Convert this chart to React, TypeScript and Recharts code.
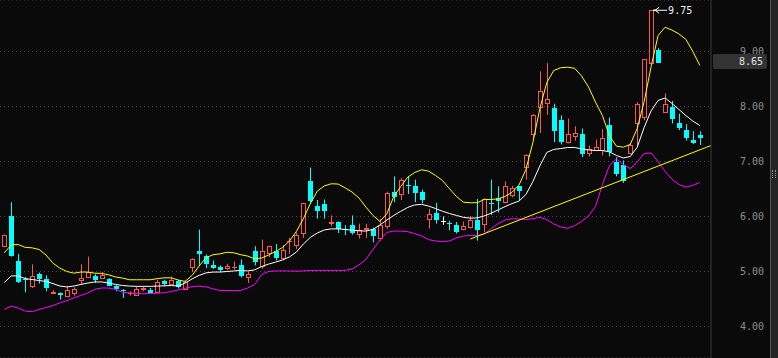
import { ComposedChart, Bar, Line, XAxis, YAxis, CartesianGrid, ReferenceLine, ReferenceDot } from 'recharts'

const BG = '#0a0a0a'
const UP = '#ff5454'
const DOWN = '#00ffff'
const FONT = '"DejaVu Sans Mono", monospace'

// daily candles, oldest first
const opens = [
  5.44, 6.01, 5.20, 4.87, 4.72, 4.95, 4.86, 4.59, 4.61, 4.53,
  4.60, 4.83, 4.89, 4.92, 4.87, 4.87, 4.73, 4.67, 4.60, 4.56,
  4.66, 4.67, 4.61, 4.83, 4.76, 4.83, 4.67, 5.06, 5.38, 5.28,
  5.11, 5.08, 5.05, 5.07, 5.11, 4.88, 5.37, 5.08, 5.32, 5.38,
  5.22, 5.54, 5.46, 5.69, 6.64, 6.20, 6.22, 5.87, 5.90, 5.78,
  5.84, 5.67, 5.75, 5.78, 5.60, 5.81, 6.44, 6.40, 6.57, 6.55,
  6.44, 5.94, 6.06, 5.92, 5.89, 5.84, 5.75, 5.80, 5.94, 5.85,
  6.25, 6.34, 6.24, 6.37, 6.55, 6.88, 7.49, 7.97, 8.05, 7.98,
  7.75, 7.33, 7.44, 7.50, 7.14, 7.20, 7.19, 7.67, 7.00, 6.93,
  7.14, 7.69, 7.80, 8.78, 9.02, 7.89, 8.00, 7.70, 7.57, 7.40,
  7.49,
]
const highs = [
  5.67, 6.26, 5.32, 4.90, 5.13, 4.98, 4.93, 4.66, 4.62, 4.73,
  4.71, 5.13, 5.27, 4.95, 4.99, 4.88, 4.76, 4.68, 4.64, 4.73,
  4.73, 4.70, 4.85, 4.85, 4.91, 4.85, 4.84, 5.24, 5.76, 5.31,
  5.20, 5.11, 5.14, 5.18, 5.22, 4.99, 5.46, 5.58, 5.47, 5.50,
  5.48, 5.61, 5.71, 6.25, 6.89, 6.30, 6.31, 6.02, 5.91, 5.84,
  6.02, 5.87, 5.87, 5.80, 5.95, 6.45, 6.73, 6.70, 6.73, 6.67,
  6.49, 6.14, 6.25, 6.00, 5.92, 5.90, 5.91, 6.01, 6.32, 6.33,
  6.67, 6.55, 6.64, 6.56, 6.55, 7.13, 7.86, 8.64, 8.79, 8.05,
  7.84, 7.78, 7.64, 7.60, 7.29, 7.40, 7.59, 7.80, 7.08, 7.02,
  7.32, 8.08, 8.86, 9.75, 9.06, 8.24, 8.10, 7.87, 7.68, 7.55,
  7.55,
]
const lows = [
  5.44, 5.27, 4.79, 4.62, 4.70, 4.78, 4.64, 4.59, 4.49, 4.53,
  4.56, 4.77, 4.88, 4.79, 4.87, 4.73, 4.64, 4.52, 4.56, 4.56,
  4.64, 4.60, 4.61, 4.73, 4.76, 4.69, 4.67, 4.99, 5.12, 5.06,
  5.05, 4.99, 5.03, 5.03, 4.89, 4.79, 5.11, 5.05, 5.26, 5.20,
  5.20, 5.32, 5.41, 5.61, 6.23, 5.96, 5.96, 5.82, 5.70, 5.66,
  5.67, 5.60, 5.61, 5.53, 5.56, 5.78, 6.26, 6.30, 6.41, 6.26,
  6.24, 5.78, 5.87, 5.85, 5.75, 5.69, 5.75, 5.78, 5.56, 5.72,
  6.03, 6.07, 6.24, 6.35, 6.29, 6.67, 7.42, 7.52, 7.85, 7.35,
  7.31, 7.33, 7.38, 7.08, 7.09, 7.19, 7.11, 7.09, 6.73, 6.61,
  7.13, 7.26, 7.75, 8.78, 8.80, 7.89, 7.69, 7.57, 7.38, 7.32,
  7.30,
]
const closes = [
  5.67, 5.29, 4.81, 4.85, 4.91, 4.86, 4.70, 4.62, 4.57, 4.66,
  4.69, 4.89, 5.00, 4.84, 4.93, 4.73, 4.69, 4.64, 4.61, 4.69,
  4.70, 4.61, 4.81, 4.77, 4.84, 4.72, 4.81, 5.23, 5.31, 5.14,
  5.07, 5.03, 5.10, 5.08, 4.92, 4.95, 5.17, 5.37, 5.46, 5.24,
  5.40, 5.55, 5.67, 6.24, 6.29, 6.10, 6.10, 5.90, 5.78, 5.77,
  5.70, 5.76, 5.79, 5.64, 5.85, 6.43, 6.35, 6.66, 6.55, 6.42,
  6.30, 6.04, 5.93, 5.92, 5.88, 5.71, 5.83, 5.94, 5.75, 6.32,
  6.24, 6.28, 6.56, 6.52, 6.47, 7.12, 7.85, 8.29, 8.14, 7.55,
  7.35, 7.50, 7.52, 7.13, 7.23, 7.27, 7.42, 7.17, 6.78, 6.64,
  7.30, 8.05, 8.86, 9.75, 8.80, 8.05, 7.77, 7.61, 7.43, 7.34,
  7.43,
]

// band lines
const upper = [
  5.34, 5.485, 5.49, 5.44, 5.43, 5.40, 5.30, 5.15, 5.06, 5.00,
  4.97, 4.99, 4.99, 4.97, 4.965, 4.94, 4.90, 4.88, 4.85, 4.85,
  4.85, 4.85, 4.87, 4.885, 4.885, 4.845, 4.82, 4.93, 5.10, 5.25,
  5.305, 5.32, 5.35, 5.34, 5.305, 5.28, 5.23, 5.245, 5.30, 5.365,
  5.435, 5.555, 5.73, 5.96, 6.235, 6.46, 6.555, 6.595, 6.59, 6.52,
  6.445, 6.335, 6.17, 6.02, 5.91, 6.05, 6.365, 6.545, 6.715, 6.80,
  6.85, 6.825, 6.745, 6.655, 6.505, 6.365, 6.26, 6.25, 6.25, 6.31,
  6.31, 6.32, 6.365, 6.44, 6.57, 6.855, 7.345, 7.965, 8.435, 8.655,
  8.705, 8.715, 8.695, 8.555, 8.355, 8.08, 7.835, 7.47, 7.28, 7.26,
  7.31, 7.60, 8.09, 8.725, 9.29, 9.44, 9.39, 9.32, 9.22, 9.00,
  8.745,
]
const middle = [
  4.80, 4.92, 4.92, 4.87, 4.855, 4.835, 4.82, 4.78, 4.735, 4.72,
  4.735, 4.765, 4.79, 4.81, 4.81, 4.79, 4.765, 4.745, 4.735, 4.73,
  4.73, 4.73, 4.735, 4.74, 4.745, 4.735, 4.79, 4.865, 4.93, 4.975,
  4.99, 4.99, 5.00, 5.01, 5.02, 5.01, 5.03, 5.09, 5.135, 5.17,
  5.21, 5.265, 5.355, 5.50, 5.62, 5.70, 5.755, 5.775, 5.775, 5.765,
  5.75, 5.74, 5.735, 5.765, 5.845, 5.935, 6.02, 6.095, 6.165, 6.21,
  6.22, 6.19, 6.145, 6.095, 6.055, 6.02, 5.985, 5.97, 5.975, 6.01,
  6.06, 6.12, 6.18, 6.235, 6.28, 6.40, 6.635, 6.92, 7.165, 7.22,
  7.235, 7.255, 7.255, 7.23, 7.21, 7.20, 7.20, 7.175, 7.11, 7.065,
  7.09, 7.26, 7.62, 7.92, 8.11, 8.155, 8.055, 7.945, 7.835, 7.735,
  7.655,
]
const lower = [
  4.31, 4.37, 4.335, 4.28, 4.27, 4.31, 4.345, 4.38, 4.43, 4.47,
  4.52, 4.565, 4.61, 4.675, 4.70, 4.70, 4.675, 4.625, 4.61, 4.60,
  4.595, 4.60, 4.605, 4.615, 4.635, 4.665, 4.695, 4.725, 4.735, 4.72,
  4.685, 4.655, 4.655, 4.65, 4.655, 4.70, 4.765, 4.945, 5.00, 5.01,
  5.01, 5.01, 5.005, 5.01, 5.02, 5.02, 5.02, 5.02, 5.02, 5.02,
  5.045, 5.12, 5.22, 5.40, 5.57, 5.71, 5.735, 5.735, 5.725, 5.69,
  5.645, 5.58, 5.555, 5.545, 5.555, 5.61, 5.645, 5.655, 5.655, 5.68,
  5.78, 5.87, 5.935, 5.96, 5.955, 5.945, 5.96, 5.985, 5.945, 5.865,
  5.81, 5.785, 5.835, 5.91, 6.01, 6.18, 6.58, 6.925, 7.045, 6.945,
  6.87, 6.99, 7.145, 7.155, 7.00, 6.82, 6.68, 6.58, 6.535, 6.565,
  6.62,
]

const trend = [{ i: 67, v: 5.59 }, { i: 101.6, v: 7.29 }]
const peak = { i: 93, v: 9.75 }
const priceTicks = [4, 5, 6, 7, 8, 9]
const cursorPrice = '8.65'

const data = opens.map((o, i) => ({
  i,
  o,
  h: highs[i],
  l: lows[i],
  c: closes[i],
  range: [lows[i], highs[i]],
  upper: upper[i],
  mid: middle[i],
  lower: lower[i],
}))

function Candle(props: any) {
  const { x, y, width, height, payload } = props
  if (!payload || y == null) return null
  const { o, h, l, c } = payload
  const span = h - l
  const py = (v: number) => (span > 0 ? y + ((h - v) / span) * height : y)
  const left = Math.round(x + width / 2) - 2
  const mx = left + 2.5
  const top = Math.round(py(Math.max(o, c)))
  const bot = Math.round(py(Math.min(o, c)))
  const flat = Math.abs(c - o) < 0.005
  const rising = c > o
  const color = flat ? '#ffffff' : rising ? UP : DOWN
  const yh = py(h)
  const yl = py(l)

  if (bot - top <= 1) {
    return (
      <g>
        <line x1={mx} x2={mx} y1={yh} y2={yl} stroke={color} />
        <line x1={left} x2={left + 5} y1={top + 0.5} y2={top + 0.5} stroke={color} />
      </g>
    )
  }
  if (rising) {
    return (
      <g>
        <line x1={mx} x2={mx} y1={yh} y2={top} stroke={color} />
        <line x1={mx} x2={mx} y1={bot} y2={yl} stroke={color} />
        <rect x={left + 0.5} y={top + 0.5} width={4} height={bot - top - 1} fill={BG} stroke={color} />
      </g>
    )
  }
  return (
    <g>
      <line x1={mx} x2={mx} y1={yh} y2={yl} stroke={color} />
      <rect x={left} y={top} width={5} height={bot - top} fill={color} />
    </g>
  )
}

function PriceTick(props: any) {
  const { y, payload } = props
  return (
    <text x={764} y={y} dy={3.5} textAnchor="end" fill="#8e8e8e" fontSize={10} fontFamily={FONT}>
      {Number(payload.value).toFixed(2)}
    </text>
  )
}

function PeakLabel(props: any) {
  const { cx, cy } = props
  if (cx == null || cy == null) return null
  const x0 = cx + 4
  return (
    <g>
      <circle cx={cx + 3} cy={cy} r={1} fill="#ffffff" />
      <path d={`M${x0},${cy} L${x0 + 12},${cy} M${x0},${cy} l4,-3 M${x0},${cy} l4,3`} stroke="#ffffff" fill="none" />
      <text x={x0 + 13} y={cy + 4} fill="#f0f0f0" fontSize={10} fontFamily={FONT}>
        {peak.v.toFixed(2)}
      </text>
    </g>
  )
}

export default function App() {
  return (
    <div style={{ position: 'fixed', left: 0, top: 0, width: 778, height: 358, background: BG, overflow: 'hidden' }}>
      <ComposedChart width={778} height={358} data={data} margin={{ top: 0, right: 0, bottom: 0, left: 0 }}>
        <CartesianGrid horizontal vertical={false} stroke="#4d4d4d" strokeDasharray="1 3" />
        <XAxis dataKey="i" type="number" domain={[-0.623, 101.61]} hide allowDataOverflow />
        <YAxis
          orientation="right"
          width={67}
          domain={[3.4273, 9.9364]}
          ticks={priceTicks}
          interval={0}
          allowDataOverflow
          tickLine={false}
          axisLine={{ stroke: '#3a3a3a' }}
          tick={PriceTick}
        />
        <Bar dataKey="range" barSize={5} shape={Candle} isAnimationActive={false} />
        <Line dataKey="upper" stroke="#ffff00" strokeWidth={1} dot={false} activeDot={false} isAnimationActive={false} />
        <Line dataKey="mid" stroke="#ffffff" strokeWidth={1} dot={false} activeDot={false} isAnimationActive={false} />
        <Line dataKey="lower" stroke="#ff00ff" strokeWidth={1} dot={false} activeDot={false} isAnimationActive={false} />
        <ReferenceLine
          segment={[{ x: trend[0].i, y: trend[0].v }, { x: trend[1].i, y: trend[1].v }]}
          stroke="#ffff00"
          strokeWidth={1}
        />
        <ReferenceDot x={peak.i} y={peak.v} r={1} shape={PeakLabel} />
      </ComposedChart>
      <div
        style={{
          position: 'absolute', left: 713, top: 54, width: 54, height: 15, background: '#333333',
          borderRadius: 2, color: '#e6e6e6', fontFamily: FONT, fontSize: 10, lineHeight: '15px',
          textAlign: 'right', paddingRight: 4, boxSizing: 'border-box',
        }}
      >
        {cursorPrice}
      </div>
      <div style={{ position: 'absolute', left: 770, top: 0, width: 1, height: 358, background: '#555555' }} />
      <div style={{ position: 'absolute', left: 771, top: 0, width: 7, height: 358, background: '#242424' }} />
      <div style={{ position: 'absolute', left: 772, top: 170, width: 4, height: 8, borderLeft: '1px dotted #9a9a9a', borderRight: '1px dotted #9a9a9a', boxSizing: 'border-box' }} />
    </div>
  )
}
